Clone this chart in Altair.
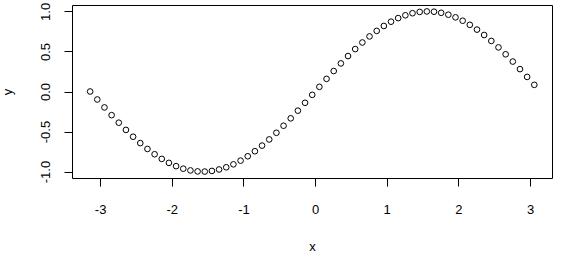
import altair as alt
import pandas as pd

x_vals = [-3.14, -3.04, -2.94, -2.84, -2.74, -2.64, -2.54, -2.44, -2.34, -2.24,
          -2.14, -2.04, -1.94, -1.84, -1.74, -1.64, -1.54, -1.44, -1.34, -1.24,
          -1.14, -1.04, -0.94, -0.84, -0.74, -0.64, -0.54, -0.44, -0.34, -0.24,
          -0.14, -0.04, 0.06, 0.16, 0.26, 0.36, 0.46, 0.56, 0.66, 0.76,
          0.86, 0.96, 1.06, 1.16, 1.26, 1.36, 1.46, 1.56, 1.66, 1.76,
          1.86, 1.96, 2.06, 2.16, 2.26, 2.36, 2.46, 2.56, 2.66, 2.76,
          2.86, 2.96, 3.06]
y_vals = [0.0, -0.0998, -0.1987, -0.2955, -0.3894, -0.4794, -0.5646, -0.6442, -0.7174, -0.7833,
          -0.8415, -0.8912, -0.9320, -0.9636, -0.9854, -0.9975, -0.9996, -0.9917, -0.9738, -0.9463,
          -0.9093, -0.8632, -0.8085, -0.7457, -0.6755, -0.5985, -0.5155, -0.4274, -0.3350, -0.2392,
          -0.1411, -0.0416, 0.0584, 0.1577, 0.2555, 0.3508, 0.4425, 0.5298, 0.6119, 0.6878,
          0.7568, 0.8183, 0.8716, 0.9162, 0.9516, 0.9775, 0.9937, 0.9999, 0.9962, 0.9825,
          0.9589, 0.9258, 0.8835, 0.8323, 0.7728, 0.7055, 0.6313, 0.5507, 0.4646, 0.3739,
          0.2794, 0.1822, 0.0831]
x_ticks = [-3, -2, -1, 0, 1, 2, 3]
y_ticks = [-1.0, -0.5, 0.0, 0.5, 1.0]

df = pd.DataFrame({"x": x_vals, "y": y_vals})
FONT = "Liberation Sans"

chart = alt.Chart(df).mark_point(
    shape="circle", filled=False, stroke="black", strokeWidth=1, size=32, opacity=1
).encode(
    x=alt.X("x:Q",
            scale=alt.Scale(domain=[-3.393, 3.307], nice=False, zero=False),
            axis=alt.Axis(values=x_ticks, domain=False, grid=False,
                          labelExpr="datum.value < 0 ? '-' + format(-datum.value, 'd') : format(datum.value, 'd')",
                          tickColor="black", tickSize=8, tickWidth=1,
                          labelFont=FONT, labelFontSize=13, labelColor="black",
                          labelPadding=17, labelFlush=False,
                          title="x", titleFont=FONT, titleFontSize=13,
                          titleFontWeight="normal", titleColor="black",
                          titleX=240, titleY=72, titleBaseline="alphabetic",
                          titleAnchor="middle")),
    y=alt.Y("y:Q",
            scale=alt.Scale(domain=[-1.08, 1.08], nice=False, zero=False),
            axis=alt.Axis(values=y_ticks, domain=False, grid=False,
                          labelExpr="datum.value < 0 ? '-' + format(-datum.value, '.1f') : format(datum.value, '.1f')",
                          tickColor="black", tickSize=8, tickWidth=1,
                          labelFont=FONT, labelFontSize=13, labelColor="black",
                          labelAngle=-90, labelAlign="center", labelBaseline="bottom",
                          labelPadding=12, labelFlush=False,
                          title="y", titleFont=FONT, titleFontSize=13,
                          titleFontWeight="normal", titleColor="black",
                          titleAngle=-90, titleX=-64.5, titleY=86.5,
                          titleAlign="center", titleBaseline="middle")),
).properties(
    width=480, height=173,
    autosize=alt.AutoSizeParams(type="none"),
    padding={"left": 72, "top": 5, "right": 26, "bottom": 80},
    background="white",
).configure_view(stroke="black", strokeWidth=1)

chart.save("out.html", embed_options={"renderer": "svg", "actions": False})
